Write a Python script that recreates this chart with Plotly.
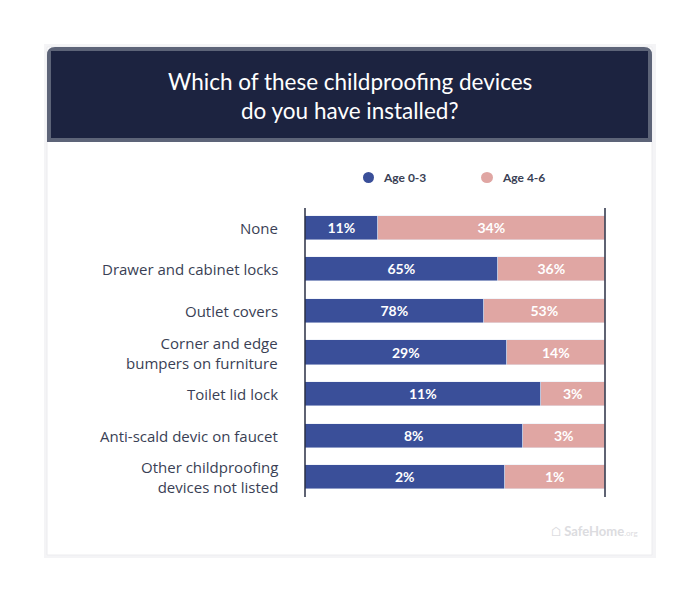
import plotly.graph_objects as go

categories = ["None", "Drawer and cabinet locks", "Outlet covers",
              "Corner and edge<br>bumpers on furniture", "Toilet lid lock",
              "Anti-scald devic on faucet", "Other childproofing<br>devices not listed"]
age_0_3 = [11, 65, 78, 29, 11, 8, 2]
age_4_6 = [34, 36, 53, 14, 3, 3, 1]

W, H = 700, 605
OFF = 8
def py(p): return 1 - (p - OFF) / H
def px(p): return (p - OFF) / W

share_a = [a / (a + b) * 100 for a, b in zip(age_0_3, age_4_6)]
share_b = [100 - s for s in share_a]
ypos = list(range(len(categories)))

fig = go.Figure()
fig.add_bar(y=ypos, x=share_a, orientation="h", marker_color="#3a4f99", width=0.58,
            text=[f"<b>{v}%</b>" for v in age_0_3], textposition="inside",
            insidetextanchor="middle", textfont=dict(color="white", size=14, family="Lato"),
            hoverinfo="skip", name="Age 0-3")
fig.add_bar(y=ypos, x=share_b, orientation="h", marker_color="#e0a6a3", width=0.58,
            text=[f"<b>{v}%</b>" for v in age_4_6], textposition="inside",
            insidetextanchor="middle", textfont=dict(color="white", size=14, family="Lato"),
            hoverinfo="skip", name="Age 4-6")

shapes = [
    dict(type="rect", xref="paper", yref="paper", x0=px(44), x1=px(656), y0=py(558), y1=py(44),
         fillcolor="#f4f4f6", line_width=0, layer="below"),
    dict(type="rect", xref="paper", yref="paper", x0=px(47), x1=px(652), y0=py(555), y1=py(47),
         fillcolor="white", line=dict(color="#ececef", width=1), layer="below"),
    dict(type="path", xref="paper", yref="paper", layer="below",
         path=f"M {px(47)} {py(142)} L {px(47)} {py(55)} Q {px(47)} {py(47)} {px(55)} {py(47)} "
              f"L {px(644)} {py(47)} Q {px(652)} {py(47)} {px(652)} {py(55)} L {px(652)} {py(142)} Z",
         fillcolor="#5d6478", line_width=0),
    dict(type="rect", xref="paper", yref="paper", x0=px(51), x1=px(648), y0=py(138), y1=py(51),
         fillcolor="#1c2340", line_width=0, layer="below"),
    dict(type="line", xref="paper", yref="paper", x0=px(305), x1=px(305), y0=py(497), y1=py(208),
         line=dict(color="#2a2f45", width=1.5)),
    dict(type="line", xref="paper", yref="paper", x0=px(605), x1=px(605), y0=py(497), y1=py(208),
         line=dict(color="#2a2f45", width=1.5)),
    dict(type="circle", xref="paper", yref="paper", x0=px(363), x1=px(374), y0=py(183), y1=py(172),
         fillcolor="#3a4f99", line_width=0),
    dict(type="circle", xref="paper", yref="paper", x0=px(481), x1=px(493), y0=py(183), y1=py(172),
         fillcolor="#e0a6a3", line_width=0),
]

annotations = [
    dict(xref="paper", yref="paper", x=px(349.5), y=py(81), showarrow=False, yanchor="middle",
         text="Which of these childproofing devices",
         font=dict(color="white", size=22.5, family="Lato")),
    dict(xref="paper", yref="paper", x=px(349.5), y=py(111), showarrow=False, yanchor="middle",
         text="do you have installed?",
         font=dict(color="white", size=22.5, family="Lato")),
    dict(xref="paper", yref="paper", x=px(381), y=py(177.5), showarrow=False, xanchor="left",
         yanchor="middle", text="<b>Age 0-3</b>", font=dict(color="#3a3f55", size=12, family="Lato")),
    dict(xref="paper", yref="paper", x=px(500), y=py(177.5), showarrow=False, xanchor="left",
         yanchor="middle", text="<b>Age 4-6</b>", font=dict(color="#3a3f55", size=12, family="Lato")),
    dict(xref="paper", yref="paper", x=px(640), y=py(531), showarrow=False, xanchor="right",
         yanchor="middle", text="⌂ <b>SafeHome</b><span style='font-size:8px'>.org</span>",
         font=dict(color="#dcdce0", size=13, family="Lato")),
]
for i, c in enumerate(categories):
    annotations.append(dict(xref="paper", yref="y", x=px(280), y=i, xanchor="right", showarrow=False,
                            text=c, align="right",
                            font=dict(color="#3a3f55", size=15, family="Open Sans")))

fig.update_layout(
    width=W, height=H, barmode="stack", showlegend=False,
    margin=dict(l=0, r=0, t=0, b=0), paper_bgcolor="white", plot_bgcolor="rgba(0,0,0,0)",
    xaxis=dict(domain=[px(305), px(605)], range=[0, 100], visible=False, fixedrange=True),
    yaxis=dict(domain=[py(498), py(207)], range=[6.5, -0.5], visible=False, fixedrange=True),
    shapes=shapes, annotations=annotations, bargap=0,
)
fig.write_html("out.html")
